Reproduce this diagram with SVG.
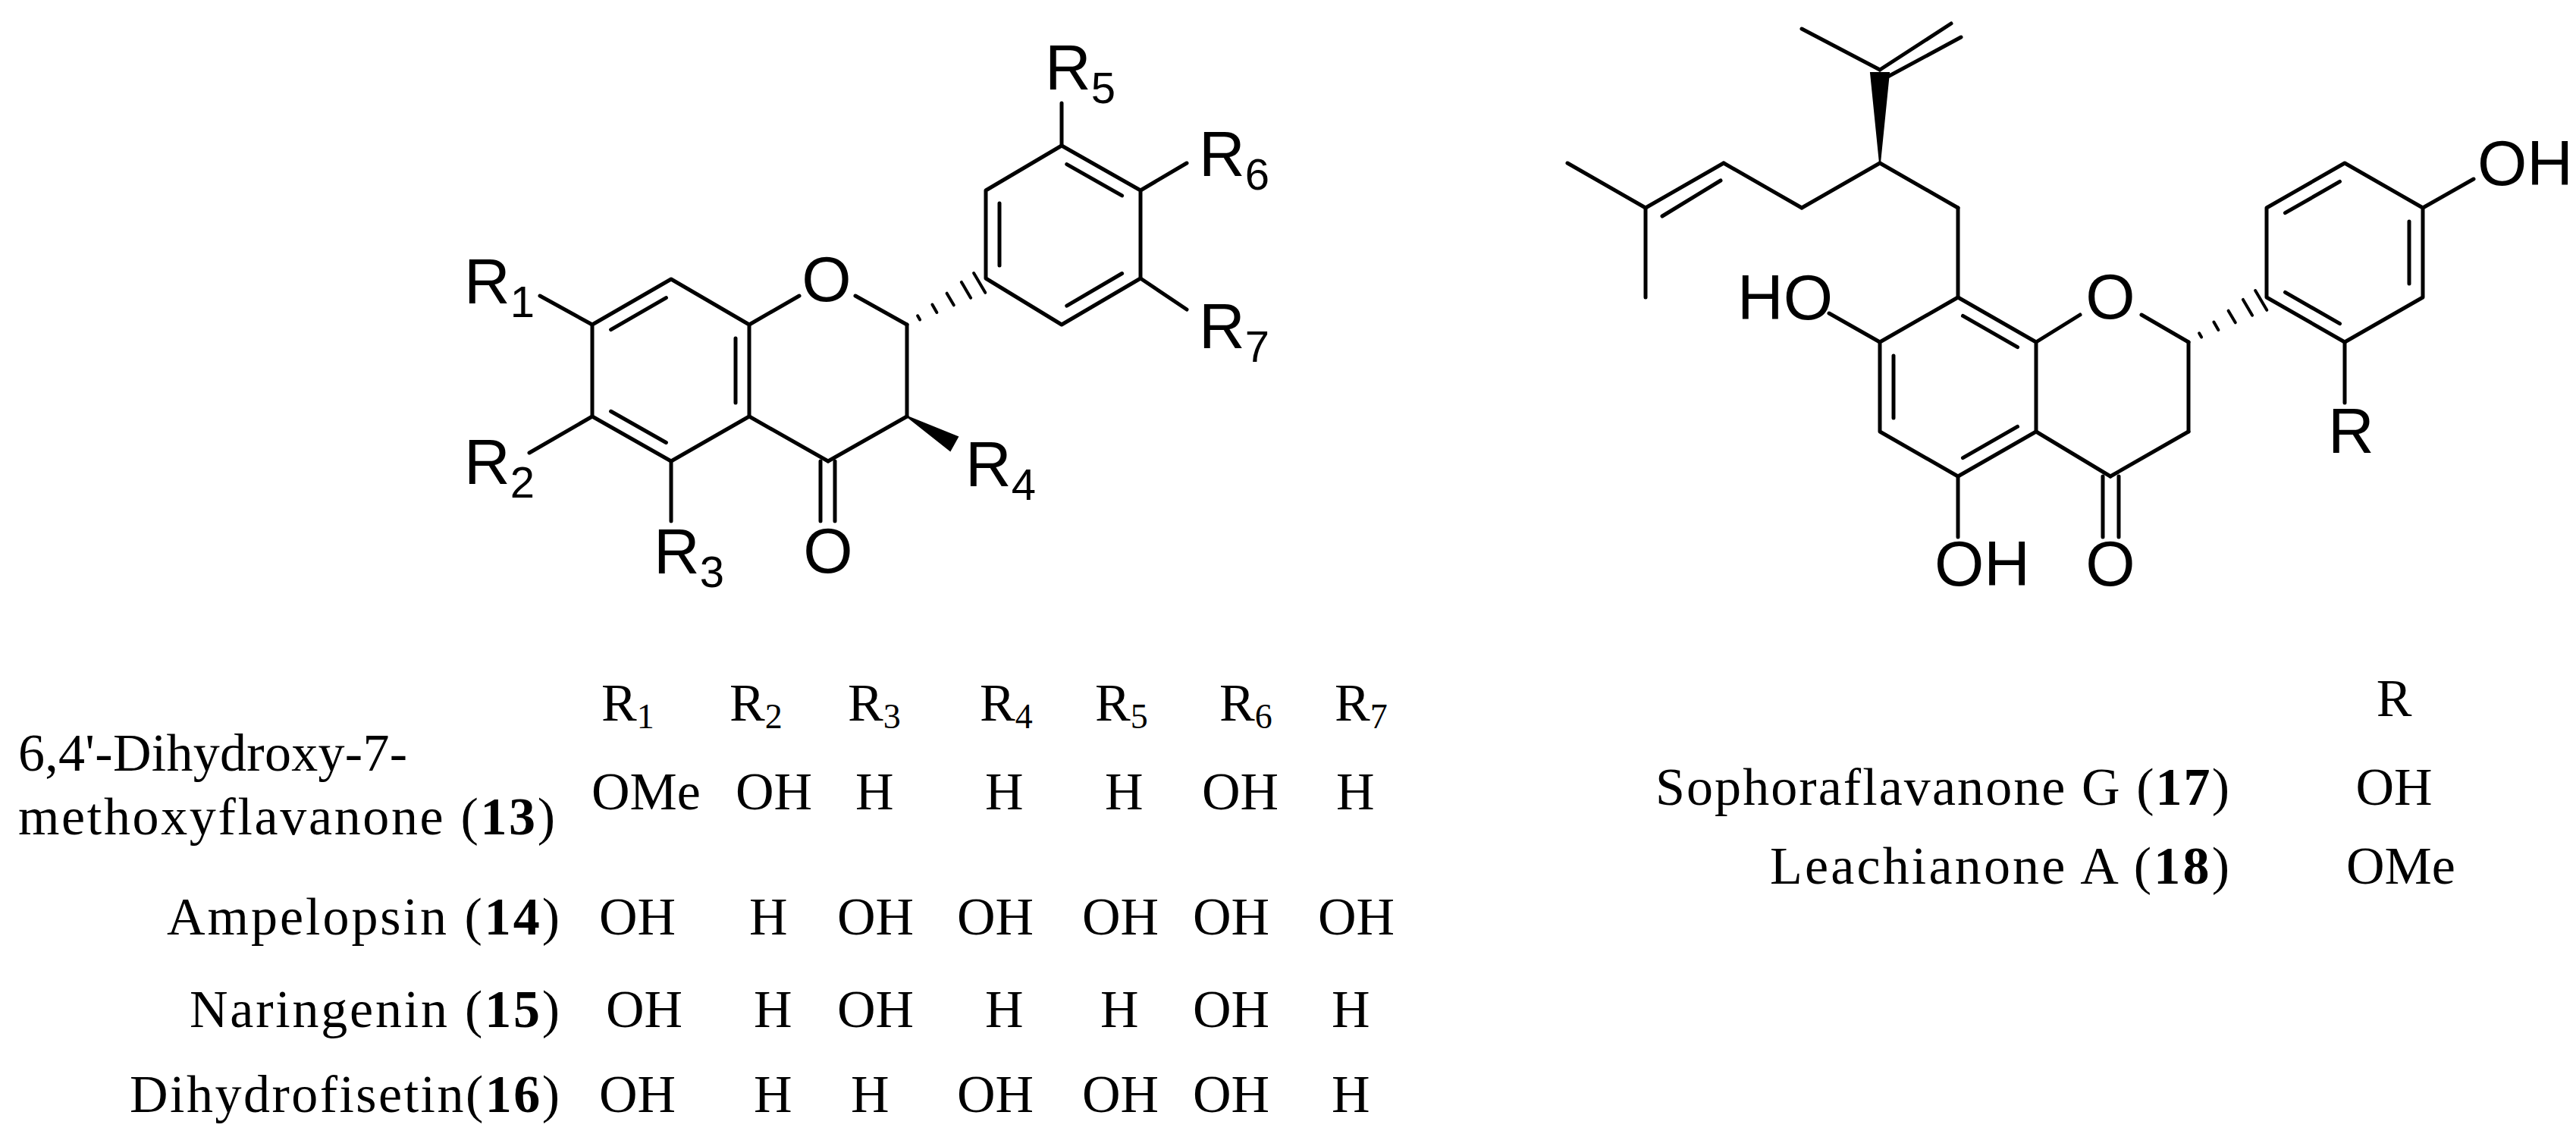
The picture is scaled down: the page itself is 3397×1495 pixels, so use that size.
<svg xmlns="http://www.w3.org/2000/svg" width="3397" height="1495" viewBox="0 0 3397 1495">
<style>
.b{stroke:#000;stroke-width:5;fill:none;stroke-linecap:round;stroke-linejoin:round}
.s{font-family:"Liberation Sans",Arial,sans-serif;font-size:84px;fill:#000}
.sub{font-size:58px}
.t{font-family:"Liberation Serif","Times New Roman",serif;font-size:70px;fill:#000}
.bd{font-weight:bold}
</style>
<rect width="3397" height="1495" fill="#fff"/>
<g id="bonds">
<g id="left-bonds" class="b">
<polygon points="781,428 885,368 988,428 988,549 885,608 781,549" />
<line x1="805.6" y1="434.6" x2="878.4" y2="392.6"/>
<line x1="970" y1="446" x2="970" y2="531"/>
<line x1="878.4" y1="583.5" x2="805.6" y2="542.3"/>
<line x1="988" y1="428" x2="1054" y2="390"/>
<line x1="1128" y1="390" x2="1196" y2="428"/>
<line x1="1196" y1="428" x2="1196" y2="549"/>
<line x1="1196" y1="549" x2="1092" y2="608"/>
<line x1="1092" y1="608" x2="988" y2="549"/>
<line x1="1082" y1="608" x2="1082" y2="687"/>
<line x1="1101" y1="608" x2="1101" y2="687"/>
<line x1="712" y1="390" x2="781" y2="428"/>
<line x1="781" y1="549" x2="698" y2="597"/>
<line x1="885" y1="608" x2="885" y2="687"/>
<polygon points="1300,367 1300,251 1400,192 1504,251 1504,367 1400,428"/>
<line x1="1318" y1="268" x2="1318" y2="350"/>
<line x1="1406.8" y1="216.6" x2="1479.6" y2="257.9"/>
<line x1="1479.6" y1="360.5" x2="1406.8" y2="403.2"/>
<line x1="1400" y1="192" x2="1400" y2="136"/>
<line x1="1504" y1="251" x2="1565" y2="215"/>
<line x1="1504" y1="367" x2="1565" y2="408"/>
<g stroke-width="4">
<line x1="1210.1" y1="416.3" x2="1213.1" y2="421.5"/>
<line x1="1229.4" y1="401.5" x2="1235.4" y2="411.9"/>
<line x1="1248.6" y1="386.7" x2="1257.8" y2="402.3"/>
<line x1="1267.9" y1="371.9" x2="1280.1" y2="392.7"/>
<line x1="1284.1" y1="360" x2="1299.3" y2="385.8"/>
</g>
</g>
<polygon points="1196,549 1253,594 1263,576" fill="#000" stroke="#000" stroke-width="2"/>
<g id="right-bonds" class="b">
<polygon points="2479,451 2582,392 2685,451 2685,569 2582,628 2479,569"/>
<line x1="2497" y1="469" x2="2497" y2="551"/>
<line x1="2588.5" y1="416.4" x2="2660.5" y2="457.7"/>
<line x1="2660.5" y1="562.4" x2="2588.5" y2="603.7"/>
<line x1="2685" y1="451" x2="2743" y2="415"/>
<line x1="2824" y1="415" x2="2886" y2="451"/>
<line x1="2886" y1="451" x2="2886" y2="569"/>
<line x1="2886" y1="569" x2="2783" y2="628"/>
<line x1="2783" y1="628" x2="2685" y2="569"/>
<line x1="2773" y1="628" x2="2773" y2="708"/>
<line x1="2794" y1="628" x2="2794" y2="708"/>
<line x1="2582" y1="628" x2="2582" y2="708"/>
<line x1="2479" y1="451" x2="2412" y2="413"/>
<line x1="2582" y1="392" x2="2582" y2="274"/>
<line x1="2582" y1="274" x2="2479" y2="215"/>
<line x1="2479" y1="92" x2="2376" y2="38"/>
<line x1="2479" y1="92" x2="2573" y2="31"/>
<line x1="2484" y1="104" x2="2586" y2="49"/>
<line x1="2479" y1="215" x2="2376" y2="274"/>
<line x1="2376" y1="274" x2="2273" y2="215"/>
<line x1="2273" y1="215" x2="2170" y2="274"/>
<line x1="2192" y1="285" x2="2269" y2="238"/>
<line x1="2170" y1="274" x2="2067" y2="215"/>
<line x1="2170" y1="274" x2="2170" y2="392"/>
<polygon points="2989,392 2989,274 3092,215 3195,274 3195,392 3092,451"/>
<line x1="3013.5" y1="385.4" x2="3085.5" y2="426.7"/>
<line x1="3013.5" y1="280.7" x2="3085.5" y2="239.4"/>
<line x1="3177" y1="292" x2="3177" y2="374"/>
<line x1="3195" y1="274" x2="3262" y2="236"/>
<line x1="3092" y1="451" x2="3092" y2="531"/>
<g stroke-width="4">
<line x1="2900.1" y1="439.3" x2="2903.1" y2="444.5"/>
<line x1="2919.4" y1="424.5" x2="2925.4" y2="434.9"/>
<line x1="2938.6" y1="409.7" x2="2947.8" y2="425.3"/>
<line x1="2957.9" y1="394.9" x2="2970.1" y2="415.7"/>
<line x1="2974.1" y1="383" x2="2989.3" y2="408.8"/>
</g>
</g>
<polygon points="2479,215 2467,96 2491,96" fill="#000" stroke="#000" stroke-width="2"/>
</g>
<g id="left-structure">
<text class="s" x="1090" y="397" text-anchor="middle">O</text>
<text class="s" x="1092" y="755" text-anchor="middle">O</text>
<text class="s" x="612" y="400">R<tspan class="sub" dy="18">1</tspan></text>
<text class="s" x="612" y="638">R<tspan class="sub" dy="18">2</tspan></text>
<text class="s" x="862" y="756">R<tspan class="sub" dy="18">3</tspan></text>
<text class="s" x="1273" y="641">R<tspan class="sub" dy="18">4</tspan></text>
<text class="s" x="1378" y="118">R<tspan class="sub" dy="18">5</tspan></text>
<text class="s" x="1581" y="232">R<tspan class="sub" dy="18">6</tspan></text>
<text class="s" x="1581" y="459">R<tspan class="sub" dy="18">7</tspan></text>
</g>
<g id="right-structure">
<text class="s" x="2783" y="420" text-anchor="middle">O</text>
<text class="s" x="2783" y="772" text-anchor="middle">O</text>
<text class="s" x="2291" y="421">HO</text>
<text class="s" x="2551" y="772">OH</text>
<text class="s" x="3267" y="244">OH</text>
<text class="s" x="3070" y="597">R</text>
</g>
<g id="left-table" class="t">
<text x="793" y="950">R<tspan font-size="46" dy="10">1</tspan></text>
<text x="962" y="950">R<tspan font-size="46" dy="10">2</tspan></text>
<text x="1118" y="950">R<tspan font-size="46" dy="10">3</tspan></text>
<text x="1292" y="950">R<tspan font-size="46" dy="10">4</tspan></text>
<text x="1444" y="950">R<tspan font-size="46" dy="10">5</tspan></text>
<text x="1608" y="950">R<tspan font-size="46" dy="10">6</tspan></text>
<text x="1760" y="950">R<tspan font-size="46" dy="10">7</tspan></text>
<text x="24" y="1016" textLength="513" lengthAdjust="spacing">6,4'-Dihydroxy-7-</text>
<text x="24" y="1100" textLength="708" lengthAdjust="spacing">methoxyflavanone (<tspan class="bd">13</tspan>)</text>
<text x="780" y="1067">OMe</text><text x="970" y="1067">OH</text><text x="1128" y="1067">H</text><text x="1299" y="1067">H</text><text x="1457" y="1067">H</text><text x="1585" y="1067">OH</text><text x="1762" y="1067">H</text>
<text x="220" y="1232" textLength="518" lengthAdjust="spacing">Ampelopsin (<tspan class="bd">14</tspan>)</text>
<text x="790" y="1232">OH</text><text x="988" y="1232">H</text><text x="1104" y="1232">OH</text><text x="1262" y="1232">OH</text><text x="1427" y="1232">OH</text><text x="1573" y="1232">OH</text><text x="1738" y="1232">OH</text>
<text x="250" y="1354" textLength="488" lengthAdjust="spacing">Naringenin (<tspan class="bd">15</tspan>)</text>
<text x="799" y="1354">OH</text><text x="994" y="1354">H</text><text x="1104" y="1354">OH</text><text x="1299" y="1354">H</text><text x="1451" y="1354">H</text><text x="1573" y="1354">OH</text><text x="1756" y="1354">H</text>
<text x="171" y="1466" textLength="567" lengthAdjust="spacing">Dihydrofisetin(<tspan class="bd">16</tspan>)</text>
<text x="790" y="1466">OH</text><text x="994" y="1466">H</text><text x="1122" y="1466">H</text><text x="1262" y="1466">OH</text><text x="1427" y="1466">OH</text><text x="1573" y="1466">OH</text><text x="1756" y="1466">H</text>
</g>
<g id="right-table" class="t">
<text x="3157" y="944" text-anchor="middle">R</text>
<text x="2183" y="1061" textLength="757" lengthAdjust="spacing">Sophoraflavanone G (<tspan class="bd">17</tspan>)</text>
<text x="3157" y="1061" text-anchor="middle">OH</text>
<text x="2334" y="1165" textLength="606" lengthAdjust="spacing">Leachianone A  (<tspan class="bd">18</tspan>)</text>
<text x="3166" y="1165" text-anchor="middle">OMe</text>
</g>
</svg>
